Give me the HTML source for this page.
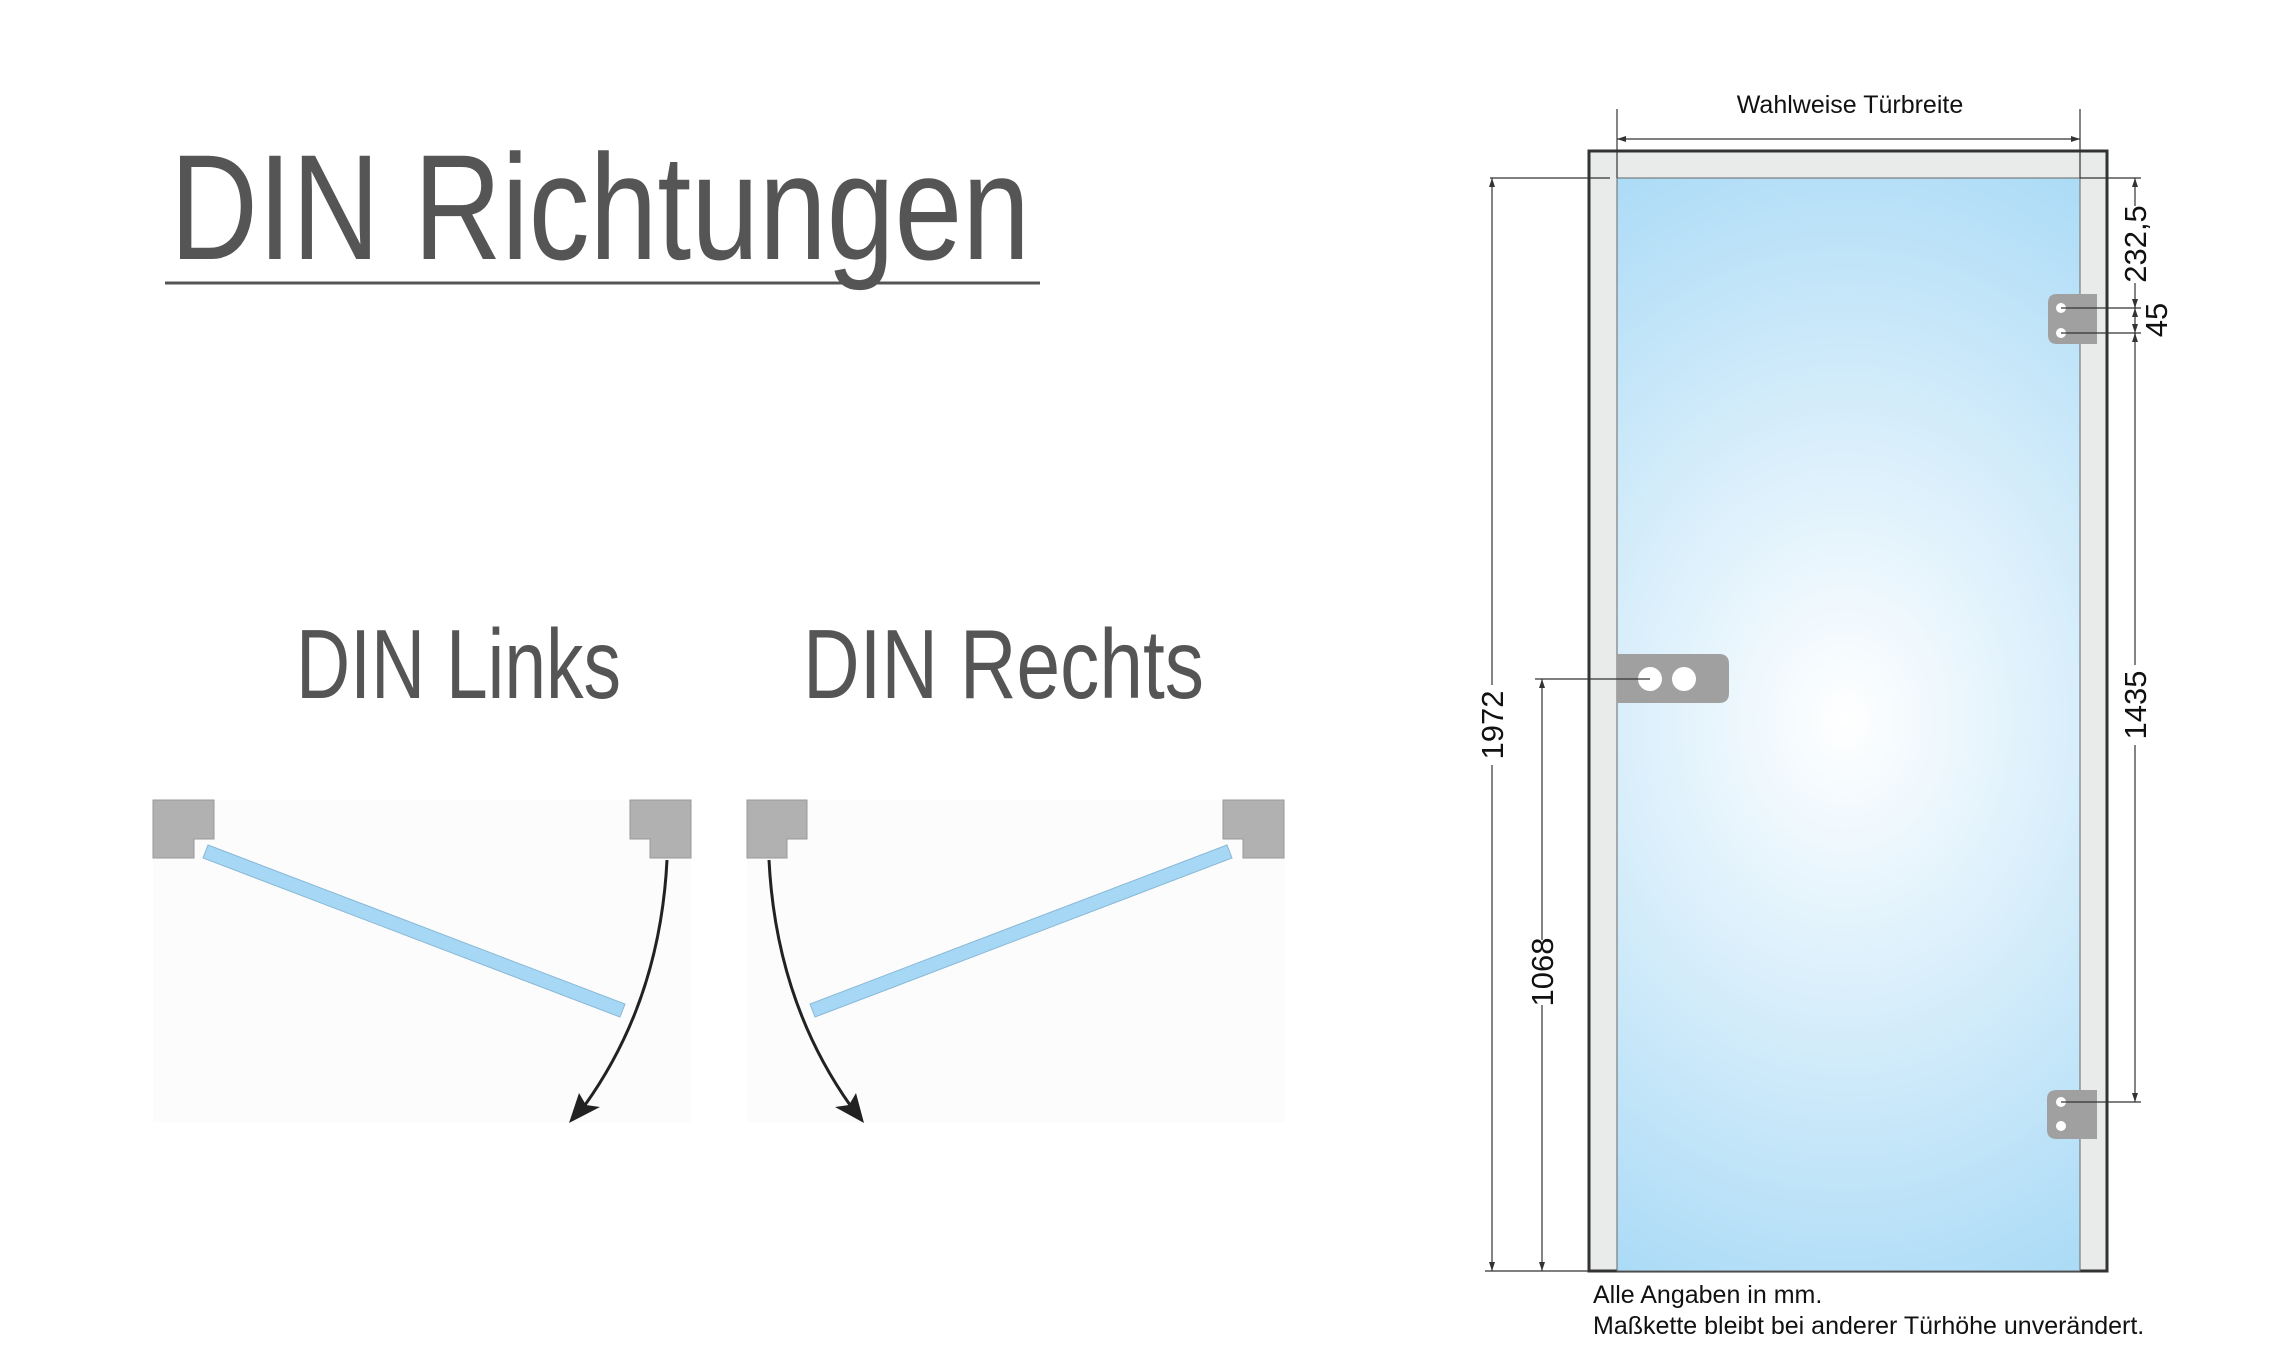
<!DOCTYPE html>
<html><head><meta charset="utf-8"><style>
html,body{margin:0;padding:0;background:#fff;}
svg{display:block;}
</style></head><body>
<svg width="2291" height="1371" viewBox="0 0 2291 1371" xmlns="http://www.w3.org/2000/svg">
<defs>
<radialGradient id="g" cx="1845" cy="720" r="560" gradientUnits="userSpaceOnUse" gradientTransform="translate(1845 720) scale(1 1.25) translate(-1845 -720)">
<stop offset="0" stop-color="#ffffff"/>
<stop offset="1" stop-color="#a0d6f5"/>
</radialGradient>
</defs>

<!-- Title -->
<text x="170" y="259" font-family="'Liberation Sans',sans-serif" font-size="150" fill="#555" textLength="860" lengthAdjust="spacingAndGlyphs">DIN Richtungen</text>
<line x1="165" y1="283" x2="1040" y2="283" stroke="#555" stroke-width="3"/>

<text x="296" y="698" font-family="'Liberation Sans',sans-serif" font-size="98" fill="#555" textLength="325" lengthAdjust="spacingAndGlyphs">DIN Links</text>
<text x="803" y="698" font-family="'Liberation Sans',sans-serif" font-size="98" fill="#555" textLength="401" lengthAdjust="spacingAndGlyphs">DIN Rechts</text>

<!-- Left diagram -->
<rect x="153" y="800" width="538" height="322" fill="#fcfcfc"/>
<path d="M153,800 H214 V839 H194 V858 H153 Z" fill="#b1b1b1" stroke="#999" stroke-width="1"/>
<path d="M630,800 H691 V858 H650 V839 H630 Z" fill="#b1b1b1" stroke="#999" stroke-width="1"/>
<polygon points="208,845 625,1004 620,1017 203,858" fill="#a6d8f5" stroke="#88b8d6" stroke-width="1"/>
<path d="M667,860 Q660,1000 585,1105" fill="none" stroke="#222" stroke-width="3"/>
<polygon points="569,1123 579,1093 586,1105 600,1107" fill="#222"/>

<!-- Right diagram -->
<rect x="747" y="800" width="538" height="322" fill="#fcfcfc"/>
<path d="M747,800 H807 V839 H787 V858 H747 Z" fill="#b1b1b1" stroke="#999" stroke-width="1"/>
<path d="M1223,800 H1284 V858 H1243 V839 H1223 Z" fill="#b1b1b1" stroke="#999" stroke-width="1"/>
<polygon points="1227,845 810,1004 815,1017 1232,858" fill="#a6d8f5" stroke="#88b8d6" stroke-width="1"/>
<path d="M769,860 Q776,1000 850,1105" fill="none" stroke="#222" stroke-width="3"/>
<polygon points="864,1123 835,1107 849,1105 856,1093" fill="#222"/>

<!-- Door -->
<rect x="1589" y="151" width="518" height="1120" fill="#e9ebea" stroke="#333" stroke-width="3"/>
<rect x="1617" y="178" width="463" height="1093" fill="url(#g)" stroke="#666" stroke-width="1"/>

<!-- hinges -->
<path d="M2057,294 H2097 V344 H2057 Q2048,344 2048,335 V303 Q2048,294 2057,294 Z" fill="#a0a0a0"/>
<circle cx="2061" cy="308" r="5" fill="#fff"/>
<circle cx="2061" cy="333" r="5" fill="#fff"/>
<path d="M2057,1090 H2097 V1139 H2057 Q2047,1139 2047,1130 V1099 Q2047,1090 2057,1090 Z" fill="#a0a0a0"/>
<circle cx="2061" cy="1102" r="5" fill="#fff"/>
<circle cx="2061" cy="1126" r="5" fill="#fff"/>

<!-- handle -->
<path d="M1617,654 H1719 Q1729,654 1729,664 V693 Q1729,703 1719,703 H1617 Z" fill="#a0a0a0"/>
<circle cx="1650" cy="679" r="12" fill="#fff"/>
<circle cx="1684" cy="679" r="12" fill="#fff"/>

<!-- dimension lines -->
<g stroke="#333" stroke-width="1.2" fill="none">
<line x1="1617" y1="109" x2="1617" y2="178"/>
<line x1="2080" y1="109" x2="2080" y2="178"/>
<line x1="1617" y1="139" x2="2080" y2="139"/>
<line x1="1490" y1="178" x2="1610" y2="178"/>
<line x1="2080" y1="178" x2="2141" y2="178"/>
<line x1="2061" y1="308" x2="2141" y2="308"/>
<line x1="2061" y1="333" x2="2141" y2="333"/>
<line x1="2061" y1="1102" x2="2141" y2="1102"/>
<line x1="1535" y1="679" x2="1650" y2="679"/>
<line x1="1485" y1="1271" x2="1589" y2="1271"/>
<line x1="2135" y1="178" x2="2135" y2="206"/>
<line x1="2135" y1="283" x2="2135" y2="308"/>
<line x1="2135" y1="300" x2="2135" y2="340"/>
<line x1="2135" y1="333" x2="2135" y2="665"/>
<line x1="2135" y1="745" x2="2135" y2="1102"/>
<line x1="1492" y1="178" x2="1492" y2="685"/>
<line x1="1492" y1="765" x2="1492" y2="1271"/>
<line x1="1542" y1="679" x2="1542" y2="940"/>
<line x1="1542" y1="1005" x2="1542" y2="1271"/>
</g>
<g fill="#333">
<polygon points="1617,139 1626,136 1626,142"/>
<polygon points="2080,139 2071,136 2071,142"/>
<polygon points="2135,178 2132,187 2138,187"/>
<polygon points="2135,308 2132,299 2138,299"/>
<polygon points="2135,308 2132,317 2138,317"/>
<polygon points="2135,333 2132,324 2138,324"/>
<polygon points="2135,333 2132,342 2138,342"/>
<polygon points="2135,1102 2132,1093 2138,1093"/>
<polygon points="1492,178 1489,187 1495,187"/>
<polygon points="1492,1271 1489,1262 1495,1262"/>
<polygon points="1542,679 1539,688 1545,688"/>
<polygon points="1542,1271 1539,1262 1545,1262"/>
</g>

<g font-family="'Liberation Sans',sans-serif" fill="#111">
<text x="1850" y="113" font-size="25" text-anchor="middle">Wahlweise Türbreite</text>
<text transform="translate(2146,244) rotate(-90)" font-size="31" text-anchor="middle">232,5</text>
<text transform="translate(2167,320) rotate(-90)" font-size="31" text-anchor="middle">45</text>
<text transform="translate(2146,705) rotate(-90)" font-size="31" text-anchor="middle">1435</text>
<text transform="translate(1503,725) rotate(-90)" font-size="31" text-anchor="middle">1972</text>
<text transform="translate(1553,972) rotate(-90)" font-size="31" text-anchor="middle">1068</text>
<text x="1593" y="1303" font-size="25">Alle Angaben in mm.</text>
<text x="1593" y="1334" font-size="25">Maßkette bleibt bei anderer Türhöhe unverändert.</text>
</g>
</svg>
</body></html>
